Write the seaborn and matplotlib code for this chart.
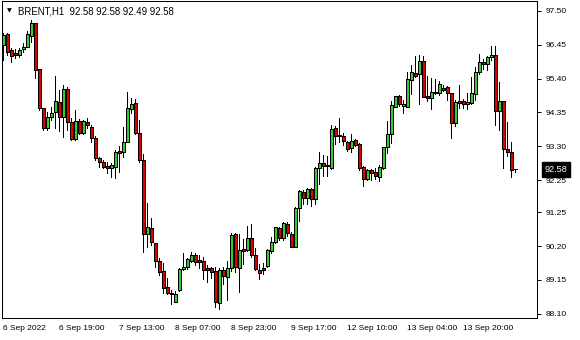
import numpy as np
import matplotlib
matplotlib.use("Agg")
import matplotlib.pyplot as plt
import matplotlib.transforms as mtransforms
import seaborn as sns

# ---- data (BRENT, H1) ----
opens = [96.44, 96.79, 96.29, 96.19, 96.13, 96.32, 96.39, 96.73, 97.12, 95.69,
         94.48, 93.86, 94.20, 94.37, 94.67, 94.20, 95.07, 94.06, 93.52, 94.08,
         93.70, 94.04, 93.89, 93.55, 92.93, 92.82, 92.69, 92.62, 92.67, 93.15,
         93.13, 93.44, 94.45, 94.65, 93.70, 92.89, 90.57, 90.75, 90.29, 89.74,
         89.43, 88.92, 88.74, 88.47, 88.84, 89.48, 89.54, 89.75, 89.94, 89.78,
         89.74, 89.51, 89.51, 89.43, 88.45, 89.46, 89.25, 89.51, 90.57, 89.51,
         90.10, 90.08, 90.46, 89.92, 89.46, 89.52, 89.59, 90.06, 90.32, 90.75,
         90.44, 90.88, 90.57, 90.18, 91.37, 91.88, 91.71, 91.96, 91.65, 92.62,
         92.77, 92.72, 92.63, 93.86, 93.65, 93.62, 93.44, 93.24, 93.49, 93.37,
         92.65, 92.28, 92.55, 92.49, 92.35, 92.62, 93.29, 93.68, 94.53, 94.86,
         94.56, 94.53, 95.36, 95.57, 95.53, 95.95, 94.86, 94.79, 94.99, 94.94,
         95.10, 95.15, 94.94, 94.03, 94.71, 94.71, 94.60, 94.64, 94.92, 95.62,
         95.93, 95.85, 96.06, 96.13, 94.41, 94.71, 93.23, 93.11, 92.58]
highs = [96.82, 96.83, 96.34, 96.31, 96.34, 96.50, 96.89, 97.22, 97.14, 95.69,
         94.48, 94.37, 94.53, 95.48, 95.05, 95.20, 95.15, 94.17, 94.43, 94.14,
         94.12, 94.17, 93.96, 93.62, 92.98, 92.87, 92.82, 92.77, 93.18, 93.31,
         93.91, 94.99, 94.79, 94.76, 94.12, 93.05, 91.53, 91.06, 90.29, 89.82,
         89.67, 89.20, 88.84, 88.81, 89.53, 89.98, 89.84, 90.03, 89.98, 89.92,
         89.87, 89.61, 89.56, 89.56, 89.51, 89.56, 89.73, 90.60, 90.60, 90.58,
         90.41, 90.82, 90.89, 90.13, 89.64, 89.67, 90.10, 90.49, 90.80, 90.80,
         90.96, 90.96, 90.65, 91.42, 91.94, 91.94, 92.01, 91.99, 92.67, 93.11,
         93.03, 93.00, 93.96, 93.93, 94.17, 93.70, 93.47, 93.68, 93.53, 93.41,
         92.69, 92.58, 92.58, 92.62, 92.72, 93.29, 94.09, 94.71, 94.86, 94.89,
         94.74, 95.61, 95.82, 96.10, 96.13, 96.10, 95.48, 95.42, 95.39, 95.33,
         95.20, 95.18, 94.94, 94.74, 95.20, 94.77, 94.94, 95.46, 95.75, 96.16,
         96.01, 96.11, 96.42, 96.42, 95.30, 94.71, 94.04, 93.44, 92.58]
lows = [95.98, 96.13, 95.93, 96.03, 96.08, 96.24, 96.37, 96.55, 95.41, 94.43,
        93.80, 93.80, 94.12, 93.86, 93.78, 93.60, 93.80, 93.49, 93.49, 93.68,
        93.68, 93.86, 93.44, 92.87, 92.67, 92.62, 92.46, 92.35, 92.32, 92.51,
        92.97, 93.44, 94.34, 93.67, 92.82, 90.01, 90.18, 90.23, 89.56, 89.32,
        88.76, 88.73, 88.42, 88.47, 88.81, 89.46, 89.49, 89.72, 89.61, 89.51,
        89.18, 89.09, 89.20, 88.32, 88.24, 89.04, 88.53, 89.43, 89.40, 88.78,
        89.66, 90.06, 89.87, 89.46, 89.17, 89.35, 89.54, 90.00, 90.29, 90.39,
        90.39, 90.51, 90.18, 90.18, 90.99, 91.51, 91.51, 91.45, 91.51, 92.13,
        92.39, 92.38, 92.58, 93.36, 93.44, 93.34, 93.16, 93.13, 93.31, 92.56,
        92.07, 92.25, 92.25, 92.30, 92.23, 92.58, 93.10, 93.41, 94.53, 94.55,
        94.34, 94.53, 94.92, 95.46, 94.61, 94.82, 94.71, 94.46, 94.91, 94.89,
        95.02, 94.74, 93.57, 93.94, 94.50, 94.50, 94.46, 94.60, 94.74, 95.53,
        95.70, 95.67, 95.98, 93.96, 93.80, 92.63, 93.01, 92.35, 92.49]
closes = [96.75, 96.24, 96.11, 96.12, 96.29, 96.39, 96.79, 97.14, 95.67, 94.48,
          93.86, 94.22, 94.34, 94.71, 94.22, 95.07, 94.06, 93.52, 94.08, 93.72,
          94.08, 93.96, 93.57, 92.93, 92.82, 92.67, 92.62, 92.72, 93.13, 93.08,
          93.44, 94.48, 94.61, 93.70, 92.87, 90.57, 90.78, 90.32, 89.74, 89.40,
          88.89, 88.76, 88.70, 88.73, 89.49, 89.56, 89.80, 89.94, 89.72, 89.72,
          89.45, 89.45, 89.40, 88.47, 89.46, 89.28, 89.51, 90.54, 89.56, 90.08,
          90.06, 90.46, 89.92, 89.48, 89.37, 89.45, 90.08, 90.32, 90.78, 90.44,
          90.91, 90.60, 90.18, 91.40, 91.91, 91.68, 91.96, 91.65, 92.63, 92.77,
          92.70, 92.68, 93.83, 93.63, 93.63, 93.47, 93.21, 93.47, 93.34, 92.62,
          92.30, 92.55, 92.48, 92.38, 92.65, 93.27, 93.67, 94.57, 94.86, 94.60,
          94.61, 95.38, 95.60, 95.49, 95.94, 94.84, 94.81, 94.98, 94.94, 95.22,
          95.05, 94.94, 94.03, 94.68, 94.65, 94.61, 94.67, 94.94, 95.62, 95.93,
          95.84, 96.06, 96.13, 94.41, 94.71, 93.23, 93.11, 92.56, 92.58]

price_ticks = [97.50, 96.45, 95.40, 94.35, 93.30, 92.25, 91.25, 90.20, 89.15, 88.10]
time_tick_bars = [0, 14, 29, 43, 57, 72, 86, 101, 115]
time_tick_labels = ["6 Sep 2022", "6 Sep 19:00", "7 Sep 13:00", "8 Sep 07:00",
                    "8 Sep 23:00", "9 Sep 17:00", "12 Sep 10:00", "13 Sep 04:00",
                    "13 Sep 20:00"]
symbol_title = "BRENT,H1  92.58 92.58 92.49 92.58"
last_price = 92.58

sns.set_style("white")
plt.rcParams["font.family"] = ["Liberation Sans", "DejaVu Sans"]

BULL = "#32CD32"
BEAR = "#E00000"
PX = 0.72  # one pixel in points at 100 dpi

o = np.array(opens); h = np.array(highs); l = np.array(lows); c = np.array(closes)
x = np.arange(len(o))
cols = np.where(c > o, BULL, np.where(c < o, BEAR, "black"))

fig = plt.figure(figsize=(5.8, 3.4), dpi=100)
fig.patch.set_facecolor("white")
ax = fig.add_axes([2 / 580, 22 / 340, 535 / 580, 317 / 340])
ax.set_facecolor("white")

ax.vlines(x, l, h, color="black", linewidth=PX, antialiased=False, zorder=1)
ax.bar(x, np.abs(c - o), bottom=np.minimum(o, c), width=0.62, color=cols,
       edgecolor="black", linewidth=PX, antialiased=False, zorder=2)

ax.set_xlim(-0.33, 133.4)
ax.set_ylim(87.97, 97.81)

for s in ax.spines.values():
    s.set_color("black")
    s.set_linewidth(PX)

ax.yaxis.tick_right()
ax.set_yticks(price_ticks)
ax.set_yticklabels([f"{v:.2f}" for v in price_ticks])
ax.tick_params(axis="y", which="both", direction="out", length=3, width=PX,
               color="black", pad=3, labelsize=6.0, labelcolor="black",
               left=False, right=True)

ax.set_xticks(time_tick_bars)
ax.set_xticklabels(time_tick_labels, ha="left")
ax.tick_params(axis="x", which="both", direction="out", length=3, width=PX,
               color="black", pad=2, labelsize=6.0, labelcolor="black")

# current price marker on the price scale
trans = mtransforms.blended_transform_factory(ax.transAxes, ax.transData)
ax.text(1.0145, last_price, f"{last_price:.2f}", transform=trans, ha="left",
        va="center", fontsize=6.6, color="white", zorder=5, clip_on=False,
        bbox=dict(boxstyle="square,pad=0.3", facecolor="black", edgecolor="black"))

# chart header
fig.text(7 / 580, 1 - 11 / 340, "\u25BC", fontsize=4.5, ha="left", va="center",
         color="black", family=["DejaVu Sans"])
fig.text(18 / 580, 1 - 11 / 340, symbol_title, fontsize=6.9, ha="left",
         va="center", color="black")

fig.savefig("out.png", dpi=100, facecolor="white")
